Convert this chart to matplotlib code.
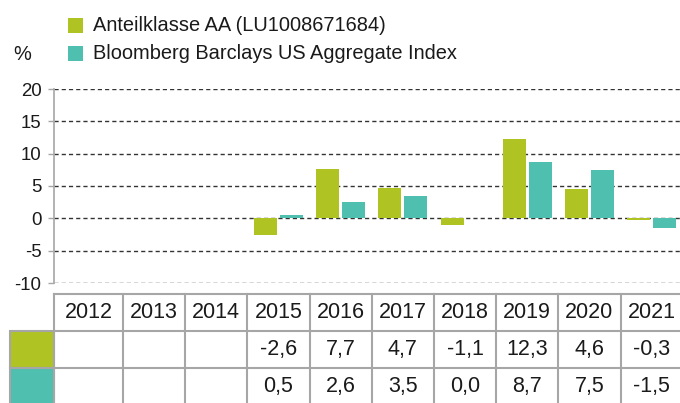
import matplotlib
matplotlib.use("Agg")
import matplotlib.pyplot as plt
from matplotlib.patches import Rectangle
import numpy as np

years = ["2012", "2013", "2014", "2015", "2016", "2017", "2018", "2019", "2020", "2021"]
fund = [None, None, None, -2.6, 7.7, 4.7, -1.1, 12.3, 4.6, -0.3]
index = [None, None, None, 0.5, 2.6, 3.5, 0.0, 8.7, 7.5, -1.5]
fund_label = "Anteilklasse AA (LU1008671684)"
index_label = "Bloomberg Barclays US Aggregate Index"
yticks = [20, 15, 10, 5, 0, -5, -10]

c_fund = "#AFC323"
c_index = "#4FBFAF"
grid_c = "#A6A6A6"
txt_c = "#1a1a1a"

plt.rcParams['font.family'] = ['Liberation Sans', 'DejaVu Sans']

W, H = 680, 403
fig = plt.figure(figsize=(W / 100, H / 100), dpi=100)

def fx(px):
    return px / W

def fy(py):
    return 1 - py / H

# column geometry (pixels)
x_axis = 54.0      # left spine / table left edge
cat0 = 60.8        # left edge of first category
colw = 62.2
ncol = len(years)
xmax_px = 680.0
xlim = (-0.5 - (cat0 - x_axis) / colw, -0.5 + (xmax_px - cat0) / colw)

# main axes
y_top, y_bot = 89.0, 283.0
ax = fig.add_axes([fx(x_axis), fy(y_bot), fx(xmax_px - x_axis), (y_bot - y_top) / H])
xs = np.arange(ncol)
fv = [np.nan if v is None else v for v in fund]
iv = [np.nan if v is None else v for v in index]
off = 13 / colw
bw = 23 / colw
ax.bar(xs - off, fv, width=bw, color=c_fund, zorder=3)
ax.bar(xs + off, iv, width=bw, color=c_index, zorder=3)
ax.set_xlim(*xlim)
ax.set_ylim(-10, 20)
ax.set_yticks(yticks)
ax.set_yticklabels([str(t) for t in yticks], fontsize=13.4, color=txt_c)
ax.set_xticks([])
for s in ["top", "right", "bottom"]:
    ax.spines[s].set_visible(False)
ax.spines["left"].set_color(grid_c)
ax.spines["left"].set_linewidth(1.2)
ax.tick_params(axis="y", length=4, width=1, color=grid_c, pad=5)
for t in yticks:
    ax.axhline(t, color="#333333", linestyle=(0, (3, 2.2)), linewidth=1.0, zorder=1)

# table axes
t_top = 293.5
rowh = 37.0
tab = fig.add_axes([fx(x_axis), fy(t_top + 3 * rowh), fx(xmax_px - x_axis), 3 * rowh / H])
tab.set_xlim(*xlim)
tab.set_ylim(3, 0)
tab.axis("off")
for r in [0, 1, 2]:
    tab.axhline(r, color=grid_c, linewidth=1.5, clip_on=False)
bounds = [xlim[0]] + [c - 0.5 for c in range(1, ncol + 1)]
for b in bounds:
    tab.plot([b, b], [0, 3], color=grid_c, linewidth=1.5, clip_on=False)

def fmt(v):
    return "" if v is None else f"{v:.1f}".replace(".", ",")

for i, y in enumerate(years):
    xc = (bounds[i] + bounds[i + 1]) / 2
    tab.text(xc, 0.52, y, ha="center", va="center", fontsize=15.5, color=txt_c)
    tab.text(xc, 1.52, fmt(fund[i]), ha="center", va="center", fontsize=15.5, color=txt_c)
    tab.text(xc, 2.52, fmt(index[i]), ha="center", va="center", fontsize=15.5, color=txt_c)

# row swatches
sw_x0 = 10.0
for r, col in [(1, c_fund), (2, c_index)]:
    fig.patches.append(Rectangle((fx(sw_x0), fy(t_top + (r + 1) * rowh)),
                                 fx(x_axis - sw_x0), rowh / H,
                                 transform=fig.transFigure, facecolor=col,
                                 edgecolor=grid_c, linewidth=1.5))

# legend
for (ly, col, lab) in [(25.8, c_fund, fund_label), (53.2, c_index, index_label)]:
    fig.patches.append(Rectangle((fx(68.3), fy(ly + 7.5)), fx(15), 15 / H,
                                 transform=fig.transFigure, facecolor=col, edgecolor="none"))
    fig.text(fx(93), fy(ly), lab, ha="left", va="center", fontsize=14.4, color=txt_c)
fig.text(fx(13), fy(55), "%", ha="left", va="center", fontsize=14.4, color=txt_c)

fig.savefig("out.png", dpi=100)
